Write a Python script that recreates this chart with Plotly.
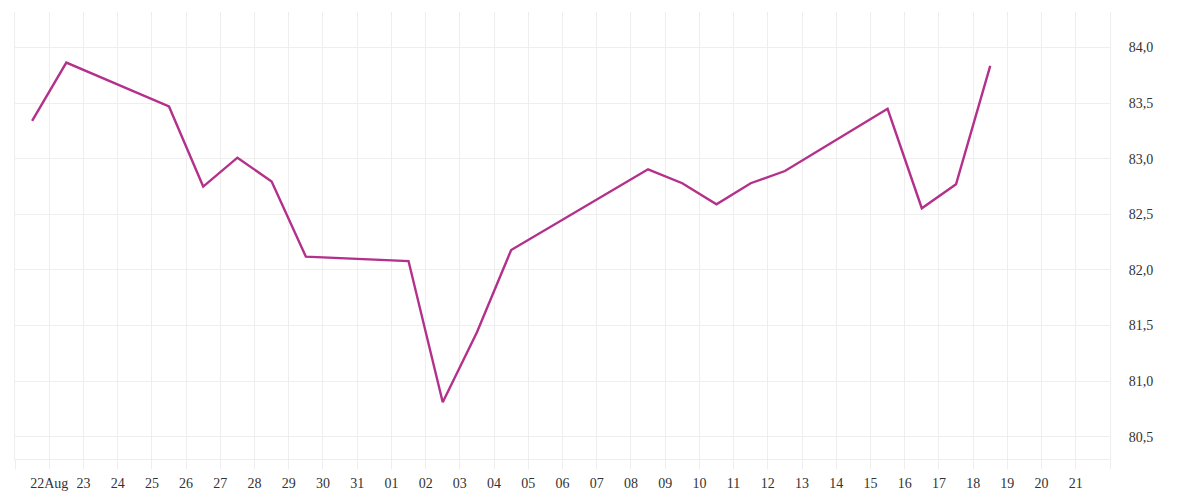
import plotly.graph_objects as go

dates = ["2025-08-21", "2025-08-22", "2025-08-25", "2025-08-26", "2025-08-27",
         "2025-08-28", "2025-08-29", "2025-09-01", "2025-09-02", "2025-09-03",
         "2025-09-04", "2025-09-05", "2025-09-08", "2025-09-09", "2025-09-10",
         "2025-09-11", "2025-09-12", "2025-09-15", "2025-09-16", "2025-09-17",
         "2025-09-18"]
values = [83.34, 83.865, 83.47, 82.75, 83.01, 82.795, 82.12, 82.08, 80.81, 81.44,
          82.18, 82.36, 82.905, 82.78, 82.59, 82.78, 82.89, 83.45, 82.555, 82.77,
          83.835]

tick_dates = ["2025-08-%02d" % d for d in range(22, 32)] + ["2025-09-%02d" % d for d in range(1, 22)]
tick_labels = ["22Aug"] + ["%02d" % d for d in range(23, 32)] + ["%02d" % d for d in range(1, 22)]
y_ticks = [80.5, 81.0, 81.5, 82.0, 82.5, 83.0, 83.5, 84.0]
y_labels = ["80,5", "81,0", "81,5", "82,0", "82,5", "83,0", "83,5", "84,0"]

DAY = 86400000
grid = "#eeeeee"
txt = "#333333"
FONT = "'Liberation Serif', 'DejaVu Serif', serif"

fig = go.Figure(go.Scatter(
    x=dates, y=values, mode="lines",
    xperiod=DAY, xperiodalignment="middle",
    line=dict(color="#b3318b", width=2.4),
))

fig.update_layout(
    width=1200, height=500,
    margin=dict(l=7, r=98, t=4, b=49),
    paper_bgcolor="white", plot_bgcolor="white",
    showlegend=False,
    font=dict(family=FONT, size=14, color=txt),
    xaxis=dict(
        type="date",
        range=["2025-08-21", "2025-09-22"],
        tickvals=tick_dates, ticktext=tick_labels,
        showgrid=True, gridcolor=grid, gridwidth=1,
        ticks="outside", ticklen=9, tickcolor=grid, tickwidth=1,
        minor=dict(dtick=DAY, tick0="2025-08-21", showgrid=True, gridcolor=grid,
                   ticks="outside", ticklen=9, tickcolor=grid),
        showline=True, linecolor=grid, linewidth=1,
        zeroline=False,
        ticklabelstandoff=2,
        tickfont=dict(family=FONT, size=14, color=txt),
    ),
    yaxis=dict(
        side="right",
        range=[80.3, 84.32],
        tickvals=y_ticks, ticktext=y_labels,
        showgrid=True, gridcolor=grid, gridwidth=1,
        showline=True, mirror=True, linecolor=grid, linewidth=1,
        ticks="", zeroline=False,
        ticklabelstandoff=15,
        tickfont=dict(family=FONT, size=14, color=txt),
    ),
)

fig.write_html("out.html")
